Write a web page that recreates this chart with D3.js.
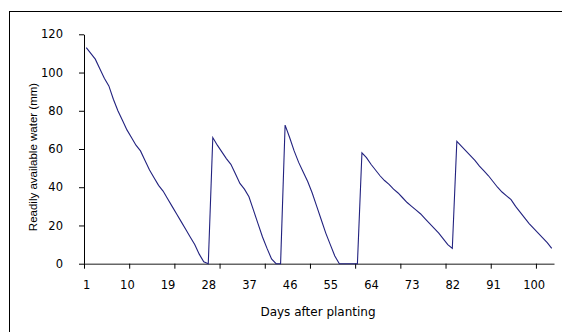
<!DOCTYPE html>
<html>
<head>
<meta charset="utf-8">
<script src="https://cdn.jsdelivr.net/npm/d3@7"></script>
<style>
  body { margin: 0; background: #fff; }
  svg { display: block; }
  text { font-family: "DejaVu Sans", sans-serif; fill: #000; }
</style>
</head>
<body>
<script>
const w = 562;
const h = 332;

// days after planting 1..104
const days = d3.range(1, 105);
// readily available water (mm)
const water = [
  113, 110, 107, 102, 97, 93, 86, 80, 75, 70, 66, 62, 59, 54, 49, 45, 41, 38, 34, 30,
  26, 22, 18, 14, 10, 5, 1, 0,
  66, 62, 58.5, 55, 52, 47, 42, 39, 35, 28, 21, 14, 8, 2.5, 0, 0,
  72.5, 66, 59, 53, 48, 43, 37, 30, 23, 16, 10, 4, 0, 0, 0, 0, 0,
  58, 55.5, 52, 49, 46, 43.5, 41.5, 39, 37, 34.5, 32, 30, 28, 26, 23.5, 21, 18.5, 16, 13, 10, 8,
  64, 61.5, 59, 56.5, 54, 51, 48.5, 46, 43, 40, 37.5, 35.5, 33.5, 30, 27, 24, 21, 18.5, 16, 13.5, 11, 8
];
const yTicks = [0, 20, 40, 60, 80, 100, 120];
const xLabels = [1, 10, 19, 28, 37, 46, 55, 64, 73, 82, 91, 100];

const data = days.map((d, i) => ({ day: d, value: water[i] }));

const svg = d3.select("body").append("svg").attr("width", w).attr("height", h);

// chart area border
svg.append("rect")
  .attr("x", 9.5).attr("y", 11.5)
  .attr("width", w).attr("height", h)
  .attr("fill", "none").attr("stroke", "#000").attr("stroke-width", 1);

const plotLeft = 84, plotRight = 554, plotTop = 34.3, plotBottom = 263.7;

const xScale = d3.scaleLinear().domain([0.5, days.length + 0.5]).range([plotLeft, plotRight]);
const yScale = d3.scaleLinear().domain([0, 120]).range([plotBottom, plotTop]);

// y axis
const yAxis = d3.axisLeft(yScale).tickValues(yTicks).tickSize(5).tickPadding(16).tickSizeOuter(0);
const gy = svg.append("g").attr("transform", `translate(${plotLeft},0)`).call(yAxis);
gy.selectAll("text").style("font-size", "11.5px");
gy.select(".domain").attr("stroke", "#000");

// x axis: tick marks between categories, labels on categories
const boundaries = d3.range(0.5, days.length + 0.6, 10);
const gx = svg.append("g").attr("transform", `translate(0,${plotBottom})`)
  .call(d3.axisBottom(xScale).tickValues(boundaries).tickSize(5).tickSizeOuter(0).tickFormat(""));
gx.select(".domain").attr("stroke", "#666").attr("stroke-width", 1.5);

svg.append("g").attr("transform", `translate(0,${plotBottom})`)
  .call(d3.axisBottom(xScale).tickValues(xLabels).tickSize(0).tickPadding(17))
  .call((g) => g.select(".domain").remove())
  .selectAll("text").style("font-size", "11.5px");

// line
const line = d3.line().x((d) => xScale(d.day)).y((d) => yScale(d.value));
svg.append("path")
  .datum(data)
  .attr("d", line)
  .attr("fill", "none")
  .attr("stroke", "#22227f")
  .attr("stroke-width", 1.1);

// axis titles
svg.append("text")
  .attr("x", 318).attr("y", 316)
  .attr("text-anchor", "middle")
  .style("font-size", "12px")
  .text("Days after planting");

svg.append("text")
  .attr("transform", "translate(37,157) rotate(-90)")
  .attr("text-anchor", "middle")
  .style("font-family", "'Liberation Sans', sans-serif")
  .style("font-size", "11.5px")
  .text("Readily available water (mm)");
</script>
</body>
</html>
